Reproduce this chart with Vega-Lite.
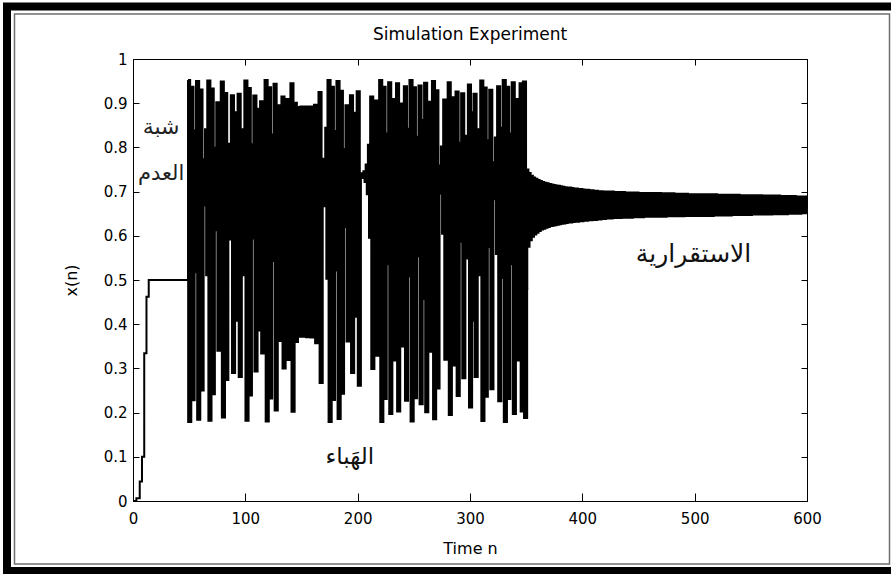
{
"$schema": "https://vega.github.io/schema/vega-lite/v6.json",
"width": 674, "height": 442,
"autosize": {"type": "none"},
"padding": {"left": 133, "top": 59, "right": 84, "bottom": 73},
"background": "white",
"title": {"text": "Simulation Experiment", "font": "DejaVu Sans", "fontSize": 17, "fontWeight": "normal", "color": "black", "anchor": "middle", "offset": -42},
"config": {
  "view": {"stroke": "black", "strokeWidth": 1},
  "axis": {"grid": false, "domain": false, "labelFont": "DejaVu Sans", "labelFontSize": 15, "labelColor": "black", "titleFont": "DejaVu Sans", "titleFontSize": 16, "titleFontWeight": "normal", "titleColor": "black", "tickColor": "black", "labelFlush": false}
},
"data": {"values": [
{"n":0,"x":0},{"n":1,"x":0},{"n":2,"x":0},{"n":3,"x":0.006},{"n":4,"x":0.006},{"n":5,"x":0.006},{"n":6,"x":0.044},{"n":7,"x":0.044},{"n":8,"x":0.1},{"n":9,"x":0.1},
{"n":10,"x":0.334},{"n":11,"x":0.334},{"n":12,"x":0.462},{"n":13,"x":0.462},{"n":14,"x":0.5},{"n":15,"x":0.5},{"n":16,"x":0.5},{"n":17,"x":0.5},{"n":18,"x":0.5},{"n":19,"x":0.5},
{"n":20,"x":0.5},{"n":21,"x":0.5},{"n":22,"x":0.5},{"n":23,"x":0.5},{"n":24,"x":0.5},{"n":25,"x":0.5},{"n":26,"x":0.5},{"n":27,"x":0.5},{"n":28,"x":0.5},{"n":29,"x":0.5},
{"n":30,"x":0.5},{"n":31,"x":0.5},{"n":32,"x":0.5},{"n":33,"x":0.5},{"n":34,"x":0.5},{"n":35,"x":0.5},{"n":36,"x":0.5},{"n":37,"x":0.5},{"n":38,"x":0.5},{"n":39,"x":0.5},
{"n":40,"x":0.5},{"n":41,"x":0.5},{"n":42,"x":0.5},{"n":43,"x":0.5},{"n":44,"x":0.5},{"n":45,"x":0.5},{"n":46,"x":0.5},{"n":47,"x":0.5},{"n":48,"x":0.5},{"n":49,"x":0.95},
{"n":50,"x":0.181},{"n":51,"x":0.562},{"n":52,"x":0.935},{"n":53,"x":0.23},{"n":54,"x":0.673},{"n":55,"x":0.836},{"n":56,"x":0.52},{"n":57,"x":0.948},{"n":58,"x":0.186},{"n":59,"x":0.575},
{"n":60,"x":0.929},{"n":61,"x":0.252},{"n":62,"x":0.717},{"n":63,"x":0.771},{"n":64,"x":0.671},{"n":65,"x":0.839},{"n":66,"x":0.513},{"n":67,"x":0.949},{"n":68,"x":0.184},{"n":69,"x":0.571},
{"n":70,"x":0.931},{"n":71,"x":0.244},{"n":72,"x":0.701},{"n":73,"x":0.797},{"n":74,"x":0.615},{"n":75,"x":0.9},{"n":76,"x":0.342},{"n":77,"x":0.855},{"n":78,"x":0.471},{"n":79,"x":0.947},
{"n":80,"x":0.191},{"n":81,"x":0.587},{"n":82,"x":0.921},{"n":83,"x":0.276},{"n":84,"x":0.759},{"n":85,"x":0.695},{"n":86,"x":0.806},{"n":87,"x":0.594},{"n":88,"x":0.916},{"n":89,"x":0.292},
{"n":90,"x":0.786},{"n":91,"x":0.639},{"n":92,"x":0.877},{"n":93,"x":0.41},{"n":94,"x":0.919},{"n":95,"x":0.283},{"n":96,"x":0.771},{"n":97,"x":0.671},{"n":98,"x":0.839},{"n":99,"x":0.513},
{"n":100,"x":0.949},{"n":101,"x":0.184},{"n":102,"x":0.568},{"n":103,"x":0.932},{"n":104,"x":0.241},{"n":105,"x":0.695},{"n":106,"x":0.805},{"n":107,"x":0.596},{"n":108,"x":0.915},{"n":109,"x":0.295},
{"n":110,"x":0.79},{"n":111,"x":0.631},{"n":112,"x":0.885},{"n":113,"x":0.388},{"n":114,"x":0.902},{"n":115,"x":0.336},{"n":116,"x":0.848},{"n":117,"x":0.491},{"n":118,"x":0.95},{"n":119,"x":0.182},
{"n":120,"x":0.565},{"n":121,"x":0.934},{"n":122,"x":0.234},{"n":123,"x":0.68},{"n":124,"x":0.827},{"n":125,"x":0.545},{"n":126,"x":0.942},{"n":127,"x":0.207},{"n":128,"x":0.623},{"n":129,"x":0.893},
{"n":130,"x":0.364},{"n":131,"x":0.88},{"n":132,"x":0.401},{"n":133,"x":0.913},{"n":134,"x":0.302},{"n":135,"x":0.801},{"n":136,"x":0.606},{"n":137,"x":0.907},{"n":138,"x":0.321},{"n":139,"x":0.828},
{"n":140,"x":0.542},{"n":141,"x":0.943},{"n":142,"x":0.204},{"n":143,"x":0.616},{"n":144,"x":0.899},{"n":145,"x":0.362},{"n":146,"x":0.885},{"n":147,"x":0.376},{"n":148,"x":0.889},{"n":149,"x":0.374},
{"n":150,"x":0.89},{"n":151,"x":0.374},{"n":152,"x":0.889},{"n":153,"x":0.374},{"n":154,"x":0.89},{"n":155,"x":0.373},{"n":156,"x":0.889},{"n":157,"x":0.374},{"n":158,"x":0.89},{"n":159,"x":0.372},
{"n":160,"x":0.888},{"n":161,"x":0.379},{"n":162,"x":0.894},{"n":163,"x":0.359},{"n":164,"x":0.875},{"n":165,"x":0.416},{"n":166,"x":0.923},{"n":167,"x":0.269},{"n":168,"x":0.748},{"n":169,"x":0.716},
{"n":170,"x":0.772},{"n":171,"x":0.669},{"n":172,"x":0.842},{"n":173,"x":0.505},{"n":174,"x":0.95},{"n":175,"x":0.181},{"n":176,"x":0.563},{"n":177,"x":0.935},{"n":178,"x":0.231},{"n":179,"x":0.674},
{"n":180,"x":0.835},{"n":181,"x":0.524},{"n":182,"x":0.948},{"n":183,"x":0.188},{"n":184,"x":0.58},{"n":185,"x":0.926},{"n":186,"x":0.245},{"n":187,"x":0.703},{"n":188,"x":0.794},{"n":189,"x":0.622},
{"n":190,"x":0.893},{"n":191,"x":0.363},{"n":192,"x":0.879},{"n":193,"x":0.406},{"n":194,"x":0.916},{"n":195,"x":0.292},{"n":196,"x":0.786},{"n":197,"x":0.64},{"n":198,"x":0.876},{"n":199,"x":0.419},
{"n":200,"x":0.925},{"n":201,"x":0.263},{"n":202,"x":0.738},{"n":203,"x":0.736},{"n":204,"x":0.739},{"n":205,"x":0.733},{"n":206,"x":0.744},{"n":207,"x":0.724},{"n":208,"x":0.759},{"n":209,"x":0.696},
{"n":210,"x":0.804},{"n":211,"x":0.598},{"n":212,"x":0.913},{"n":213,"x":0.301},{"n":214,"x":0.799},{"n":215,"x":0.611},{"n":216,"x":0.904},{"n":217,"x":0.331},{"n":218,"x":0.842},{"n":219,"x":0.507},
{"n":220,"x":0.95},{"n":221,"x":0.181},{"n":222,"x":0.564},{"n":223,"x":0.935},{"n":224,"x":0.233},{"n":225,"x":0.678},{"n":226,"x":0.829},{"n":227,"x":0.538},{"n":228,"x":0.945},{"n":229,"x":0.199},
{"n":230,"x":0.606},{"n":231,"x":0.907},{"n":232,"x":0.32},{"n":233,"x":0.827},{"n":234,"x":0.543},{"n":235,"x":0.943},{"n":236,"x":0.205},{"n":237,"x":0.618},{"n":238,"x":0.897},{"n":239,"x":0.352},
{"n":240,"x":0.867},{"n":241,"x":0.439},{"n":242,"x":0.936},{"n":243,"x":0.229},{"n":244,"x":0.67},{"n":245,"x":0.84},{"n":246,"x":0.511},{"n":247,"x":0.95},{"n":248,"x":0.182},{"n":249,"x":0.566},
{"n":250,"x":0.934},{"n":251,"x":0.235},{"n":252,"x":0.684},{"n":253,"x":0.822},{"n":254,"x":0.556},{"n":255,"x":0.938},{"n":256,"x":0.221},{"n":257,"x":0.654},{"n":258,"x":0.86},{"n":259,"x":0.459},
{"n":260,"x":0.944},{"n":261,"x":0.203},{"n":262,"x":0.614},{"n":263,"x":0.901},{"n":264,"x":0.34},{"n":265,"x":0.853},{"n":266,"x":0.478},{"n":267,"x":0.948},{"n":268,"x":0.187},{"n":269,"x":0.578},
{"n":270,"x":0.927},{"n":271,"x":0.257},{"n":272,"x":0.725},{"n":273,"x":0.757},{"n":274,"x":0.698},{"n":275,"x":0.8},{"n":276,"x":0.607},{"n":277,"x":0.906},{"n":278,"x":0.322},{"n":279,"x":0.83},
{"n":280,"x":0.536},{"n":281,"x":0.945},{"n":282,"x":0.197},{"n":283,"x":0.602},{"n":284,"x":0.911},{"n":285,"x":0.309},{"n":286,"x":0.811},{"n":287,"x":0.583},{"n":288,"x":0.924},{"n":289,"x":0.24},
{"n":290,"x":0.693},{"n":291,"x":0.808},{"n":292,"x":0.589},{"n":293,"x":0.92},{"n":294,"x":0.28},{"n":295,"x":0.766},{"n":296,"x":0.682},{"n":297,"x":0.824},{"n":298,"x":0.551},{"n":299,"x":0.94},
{"n":300,"x":0.214},{"n":301,"x":0.639},{"n":302,"x":0.877},{"n":303,"x":0.41},{"n":304,"x":0.919},{"n":305,"x":0.283},{"n":306,"x":0.771},{"n":307,"x":0.671},{"n":308,"x":0.839},{"n":309,"x":0.513},
{"n":310,"x":0.949},{"n":311,"x":0.183},{"n":312,"x":0.567},{"n":313,"x":0.933},{"n":314,"x":0.238},{"n":315,"x":0.69},{"n":316,"x":0.814},{"n":317,"x":0.577},{"n":318,"x":0.928},{"n":319,"x":0.255},
{"n":320,"x":0.721},{"n":321,"x":0.764},{"n":322,"x":0.685},{"n":323,"x":0.82},{"n":324,"x":0.561},{"n":325,"x":0.936},{"n":326,"x":0.228},{"n":327,"x":0.669},{"n":328,"x":0.842},{"n":329,"x":0.507},
{"n":330,"x":0.95},{"n":331,"x":0.181},{"n":332,"x":0.564},{"n":333,"x":0.935},{"n":334,"x":0.233},{"n":335,"x":0.678},{"n":336,"x":0.829},{"n":337,"x":0.538},{"n":338,"x":0.945},{"n":339,"x":0.199},
{"n":340,"x":0.606},{"n":341,"x":0.907},{"n":342,"x":0.32},{"n":343,"x":0.827},{"n":344,"x":0.543},{"n":345,"x":0.943},{"n":346,"x":0.205},{"n":347,"x":0.618},{"n":348,"x":0.947},{"n":349,"x":0.19},
{"n":350,"x":0.48},{"n":351,"x":0.75},{"n":352,"x":0.575},{"n":353,"x":0.742},{"n":354,"x":0.59},{"n":355,"x":0.736},{"n":356,"x":0.598},{"n":357,"x":0.732},{"n":358,"x":0.603},{"n":359,"x":0.729},
{"n":360,"x":0.607},{"n":361,"x":0.726},{"n":362,"x":0.611},{"n":363,"x":0.724},{"n":364,"x":0.614},{"n":365,"x":0.722},{"n":366,"x":0.616},{"n":367,"x":0.72},{"n":368,"x":0.618},{"n":369,"x":0.719},
{"n":370,"x":0.62},{"n":371,"x":0.717},{"n":372,"x":0.622},{"n":373,"x":0.716},{"n":374,"x":0.623},{"n":375,"x":0.715},{"n":376,"x":0.624},{"n":377,"x":0.714},{"n":378,"x":0.625},{"n":379,"x":0.713},
{"n":380,"x":0.626},{"n":381,"x":0.712},{"n":382,"x":0.627},{"n":383,"x":0.711},{"n":384,"x":0.628},{"n":385,"x":0.71},{"n":386,"x":0.629},{"n":387,"x":0.709},{"n":388,"x":0.63},{"n":389,"x":0.709},
{"n":390,"x":0.63},{"n":391,"x":0.708},{"n":392,"x":0.631},{"n":393,"x":0.707},{"n":394,"x":0.632},{"n":395,"x":0.707},{"n":396,"x":0.632},{"n":397,"x":0.706},{"n":398,"x":0.633},{"n":399,"x":0.706},
{"n":400,"x":0.633},{"n":401,"x":0.705},{"n":402,"x":0.634},{"n":403,"x":0.704},{"n":404,"x":0.634},{"n":405,"x":0.704},{"n":406,"x":0.635},{"n":407,"x":0.703},{"n":408,"x":0.635},{"n":409,"x":0.703},
{"n":410,"x":0.636},{"n":411,"x":0.702},{"n":412,"x":0.636},{"n":413,"x":0.702},{"n":414,"x":0.637},{"n":415,"x":0.701},{"n":416,"x":0.637},{"n":417,"x":0.701},{"n":418,"x":0.638},{"n":419,"x":0.7},
{"n":420,"x":0.638},{"n":421,"x":0.7},{"n":422,"x":0.639},{"n":423,"x":0.7},{"n":424,"x":0.639},{"n":425,"x":0.7},{"n":426,"x":0.639},{"n":427,"x":0.7},{"n":428,"x":0.64},{"n":429,"x":0.699},
{"n":430,"x":0.64},{"n":431,"x":0.699},{"n":432,"x":0.64},{"n":433,"x":0.699},{"n":434,"x":0.64},{"n":435,"x":0.699},{"n":436,"x":0.641},{"n":437,"x":0.699},{"n":438,"x":0.641},{"n":439,"x":0.698},
{"n":440,"x":0.641},{"n":441,"x":0.698},{"n":442,"x":0.641},{"n":443,"x":0.698},{"n":444,"x":0.641},{"n":445,"x":0.698},{"n":446,"x":0.642},{"n":447,"x":0.698},{"n":448,"x":0.642},{"n":449,"x":0.698},
{"n":450,"x":0.642},{"n":451,"x":0.697},{"n":452,"x":0.642},{"n":453,"x":0.697},{"n":454,"x":0.642},{"n":455,"x":0.697},{"n":456,"x":0.643},{"n":457,"x":0.697},{"n":458,"x":0.643},{"n":459,"x":0.697},
{"n":460,"x":0.643},{"n":461,"x":0.697},{"n":462,"x":0.643},{"n":463,"x":0.697},{"n":464,"x":0.643},{"n":465,"x":0.697},{"n":466,"x":0.643},{"n":467,"x":0.697},{"n":468,"x":0.643},{"n":469,"x":0.697},
{"n":470,"x":0.643},{"n":471,"x":0.696},{"n":472,"x":0.643},{"n":473,"x":0.696},{"n":474,"x":0.643},{"n":475,"x":0.696},{"n":476,"x":0.644},{"n":477,"x":0.696},{"n":478,"x":0.644},{"n":479,"x":0.696},
{"n":480,"x":0.644},{"n":481,"x":0.696},{"n":482,"x":0.644},{"n":483,"x":0.695},{"n":484,"x":0.644},{"n":485,"x":0.695},{"n":486,"x":0.644},{"n":487,"x":0.695},{"n":488,"x":0.644},{"n":489,"x":0.695},
{"n":490,"x":0.644},{"n":491,"x":0.695},{"n":492,"x":0.645},{"n":493,"x":0.695},{"n":494,"x":0.645},{"n":495,"x":0.694},{"n":496,"x":0.645},{"n":497,"x":0.694},{"n":498,"x":0.645},{"n":499,"x":0.694},
{"n":500,"x":0.645},{"n":501,"x":0.694},{"n":502,"x":0.645},{"n":503,"x":0.694},{"n":504,"x":0.645},{"n":505,"x":0.694},{"n":506,"x":0.645},{"n":507,"x":0.694},{"n":508,"x":0.645},{"n":509,"x":0.694},
{"n":510,"x":0.645},{"n":511,"x":0.694},{"n":512,"x":0.645},{"n":513,"x":0.694},{"n":514,"x":0.645},{"n":515,"x":0.694},{"n":516,"x":0.645},{"n":517,"x":0.694},{"n":518,"x":0.646},{"n":519,"x":0.694},
{"n":520,"x":0.646},{"n":521,"x":0.693},{"n":522,"x":0.646},{"n":523,"x":0.693},{"n":524,"x":0.646},{"n":525,"x":0.693},{"n":526,"x":0.646},{"n":527,"x":0.693},{"n":528,"x":0.646},{"n":529,"x":0.693},
{"n":530,"x":0.646},{"n":531,"x":0.693},{"n":532,"x":0.646},{"n":533,"x":0.693},{"n":534,"x":0.647},{"n":535,"x":0.693},{"n":536,"x":0.647},{"n":537,"x":0.693},{"n":538,"x":0.647},{"n":539,"x":0.693},
{"n":540,"x":0.647},{"n":541,"x":0.692},{"n":542,"x":0.647},{"n":543,"x":0.692},{"n":544,"x":0.647},{"n":545,"x":0.692},{"n":546,"x":0.647},{"n":547,"x":0.692},{"n":548,"x":0.647},{"n":549,"x":0.692},
{"n":550,"x":0.647},{"n":551,"x":0.692},{"n":552,"x":0.648},{"n":553,"x":0.692},{"n":554,"x":0.648},{"n":555,"x":0.692},{"n":556,"x":0.648},{"n":557,"x":0.692},{"n":558,"x":0.648},{"n":559,"x":0.692},
{"n":560,"x":0.648},{"n":561,"x":0.691},{"n":562,"x":0.648},{"n":563,"x":0.691},{"n":564,"x":0.648},{"n":565,"x":0.691},{"n":566,"x":0.648},{"n":567,"x":0.691},{"n":568,"x":0.648},{"n":569,"x":0.691},
{"n":570,"x":0.649},{"n":571,"x":0.691},{"n":572,"x":0.649},{"n":573,"x":0.691},{"n":574,"x":0.649},{"n":575,"x":0.691},{"n":576,"x":0.649},{"n":577,"x":0.69},{"n":578,"x":0.649},{"n":579,"x":0.69},
{"n":580,"x":0.649},{"n":581,"x":0.69},{"n":582,"x":0.649},{"n":583,"x":0.69},{"n":584,"x":0.65},{"n":585,"x":0.69},{"n":586,"x":0.65},{"n":587,"x":0.69},{"n":588,"x":0.65},{"n":589,"x":0.69},
{"n":590,"x":0.65},{"n":591,"x":0.689},{"n":592,"x":0.65},{"n":593,"x":0.689},{"n":594,"x":0.65},{"n":595,"x":0.689},{"n":596,"x":0.651},{"n":597,"x":0.689},{"n":598,"x":0.651},{"n":599,"x":0.689},
{"n":600,"x":0.651}
]},
"layer": [
  {
    "mark": {"type": "line", "interpolate": "step-after", "color": "black", "strokeWidth": 2},
    "encoding": {
      "x": {"field": "n", "type": "quantitative", "scale": {"domain": [0, 600], "nice": false, "zero": false},
            "axis": {"orient": "bottom", "title": "Time n", "values": [0,100,200,300,400,500,600], "tickSize": -8, "labelPadding": 18, "titlePadding": 14}},
      "y": {"field": "x", "type": "quantitative", "scale": {"domain": [0, 1], "nice": false},
            "axis": {"orient": "left", "title": "x(n)", "values": [0,0.1,0.2,0.3,0.4,0.5,0.6,0.7,0.8,0.9,1], "format": "~g", "tickSize": -6, "labelPadding": 12, "titlePadding": 24}}
    }
  },
  {
    "transform": [{"filter": "datum.n >= 49 && datum.n <= 350"}],
    "mark": {"type": "line", "interpolate": "step-after", "color": "black", "strokeWidth": 4},
    "encoding": {
      "x": {"field": "n", "type": "quantitative", "scale": {"domain": [0, 600], "nice": false, "zero": false}, "axis": null},
      "y": {"field": "x", "type": "quantitative", "scale": {"domain": [0, 1], "nice": false}, "axis": null}
    }
  },
  {
    "data": {"values": [{}]},
    "mark": {"type": "rect", "filled": false, "stroke": "black", "strokeWidth": 8, "clip": false},
    "encoding": {
      "x": {"datum": -112.17, "scale": {"domain": [0, 600], "nice": false, "zero": false},
            "axis": {"orient": "top", "labels": false, "title": null, "values": [0,100,200,300,400,500,600], "tickSize": -6}},
      "x2": {"datum": 679.23},
      "y": {"datum": 1.11878, "scale": {"domain": [0, 1], "nice": false},
            "axis": {"orient": "right", "labels": false, "title": null, "values": [0,0.1,0.2,0.3,0.4,0.5,0.6,0.7,0.8,0.9,1], "tickSize": -6}},
      "y2": {"datum": -0.15837}
    }
  },
  {
    "data": {"values": [{}]},
    "mark": {"type": "rect", "filled": false, "stroke": "#6e6e6e", "strokeWidth": 1.5, "clip": false},
    "encoding": {
      "x": {"datum": -105.49, "scale": {"domain": [0, 600], "nice": false, "zero": false}, "axis": null},
      "x2": {"datum": 673.44},
      "y": {"datum": 1.10181, "scale": {"domain": [0, 1], "nice": false}, "axis": null},
      "y2": {"datum": -0.14253}
    }
  },
  {
    "data": {"values": [{}]},
    "mark": {"type": "text", "text": "شبة", "font": "DejaVu Sans", "fontSize": 22, "color": "#222222", "align": "center", "baseline": "middle"},
    "encoding": {
      "x": {"datum": 25, "scale": {"domain": [0, 600], "nice": false, "zero": false}, "axis": null},
      "y": {"datum": 0.846, "scale": {"domain": [0, 1], "nice": false}, "axis": null}
    }
  },
  {
    "data": {"values": [{}]},
    "mark": {"type": "text", "text": "العدم", "font": "DejaVu Sans", "fontSize": 21, "color": "#222222", "align": "center", "baseline": "middle"},
    "encoding": {
      "x": {"datum": 25, "scale": {"domain": [0, 600], "nice": false, "zero": false}, "axis": null},
      "y": {"datum": 0.74, "scale": {"domain": [0, 1], "nice": false}, "axis": null}
    }
  },
  {
    "data": {"values": [{}]},
    "mark": {"type": "text", "text": "الهَباء", "font": "DejaVu Sans", "fontSize": 23, "color": "#111111", "align": "center", "baseline": "middle"},
    "encoding": {
      "x": {"datum": 193, "scale": {"domain": [0, 600], "nice": false, "zero": false}, "axis": null},
      "y": {"datum": 0.1, "scale": {"domain": [0, 1], "nice": false}, "axis": null}
    }
  },
  {
    "data": {"values": [{}]},
    "mark": {"type": "text", "text": "الاستقرارية", "font": "DejaVu Sans", "fontSize": 25, "color": "#111111", "align": "center", "baseline": "middle"},
    "encoding": {
      "x": {"datum": 499, "scale": {"domain": [0, 600], "nice": false, "zero": false}, "axis": null},
      "y": {"datum": 0.559, "scale": {"domain": [0, 1], "nice": false}, "axis": null}
    }
  }
],
"resolve": {"axis": {"x": "independent", "y": "independent"}}
}
